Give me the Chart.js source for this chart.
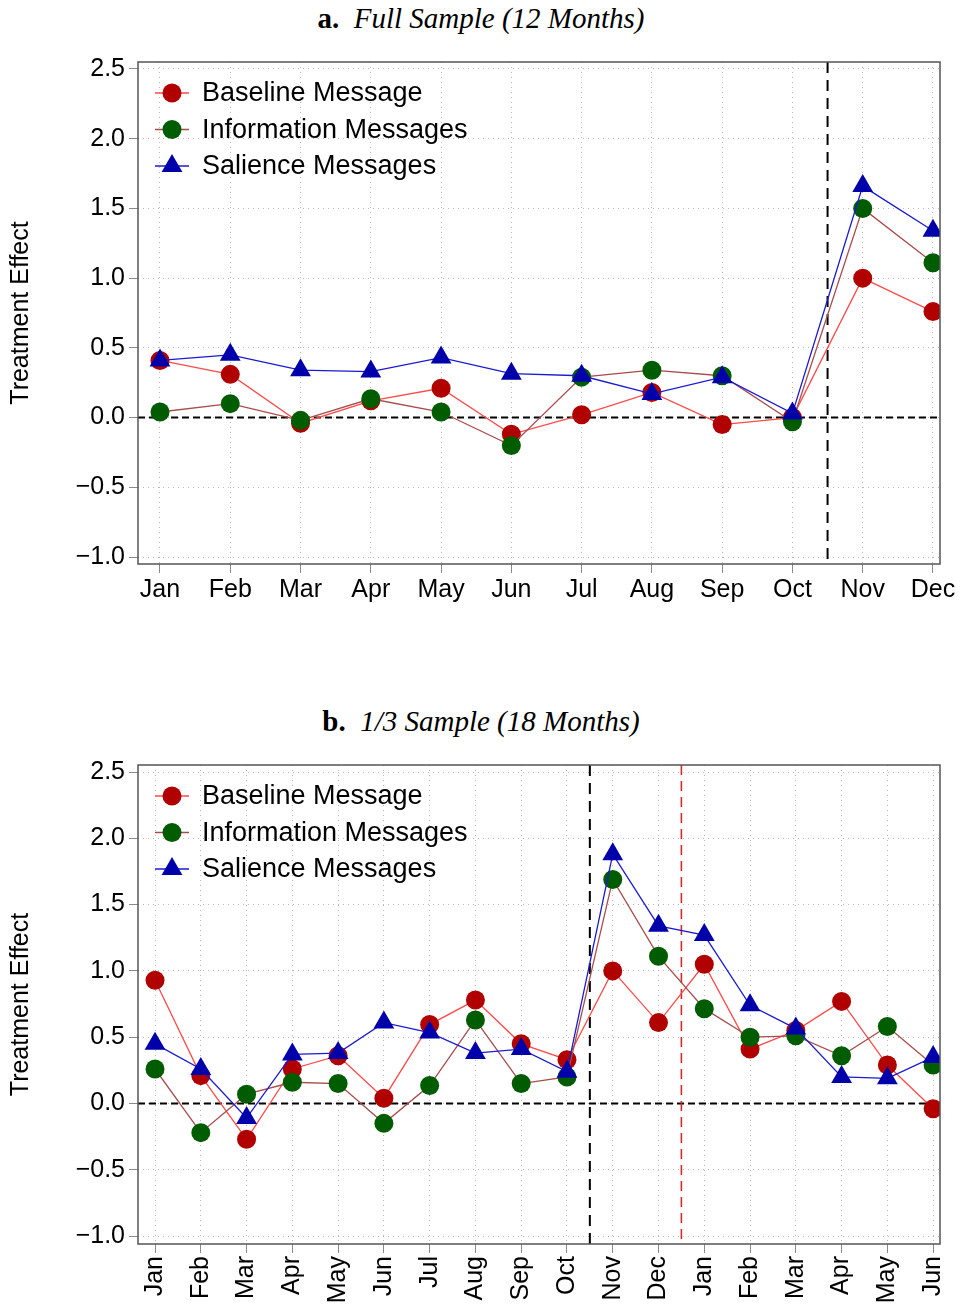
<!DOCTYPE html>
<html>
<head>
<meta charset="utf-8">
<script src="https://cdn.jsdelivr.net/npm/chart.js@4.4.1/dist/chart.umd.min.js"></script>
<style>
  html, body { margin: 0; padding: 0; background: #fff; }
  #page { position: relative; width: 962px; height: 1304px; overflow: hidden; background: #fff; }
  .ttl { position: absolute; left: 0; width: 962px; text-align: center;
         font-family: "Liberation Serif", "DejaVu Serif", serif; font-size: 29px; line-height: 30px; color: #000; }
  .ttl b { font-weight: bold; font-style: normal; }
  .ttl i { font-style: italic; }
  .cv { position: absolute; left: 0; width: 962px; }
  canvas { display: block; }
</style>
</head>
<body>
<div id="page">
  <div class="ttl" style="top:3px"><b>a.</b>&nbsp; <i>Full Sample (12 Months)</i></div>
  <div class="cv" style="top:40px;height:620px"><canvas id="chartA" width="962" height="620"></canvas></div>
  <div class="ttl" style="top:706px"><b>b.</b>&nbsp; <i>1/3 Sample (18 Months)</i></div>
  <div class="cv" style="top:740px;height:564px"><canvas id="chartB" width="962" height="564"></canvas></div>
</div>
<script>
// ---- Panel a: full sample, 12 months ----
const monthsA = ['Jan', 'Feb', 'Mar', 'Apr', 'May', 'Jun', 'Jul', 'Aug', 'Sep', 'Oct', 'Nov', 'Dec'];
const baselineA    = [0.41, 0.31, -0.04, 0.12, 0.21, -0.12, 0.02, 0.18, -0.05, 0.00, 1.00, 0.76];
const informationA = [0.04, 0.10, -0.02, 0.135, 0.04, -0.20, 0.29, 0.34, 0.30, -0.03, 1.50, 1.11];
const salienceA    = [0.41, 0.45, 0.34, 0.33, 0.43, 0.315, 0.30, 0.17, 0.29, 0.03, 1.66, 1.34];
const breaksA = [10.5];            // start of treatment (between Oct and Nov)

// ---- Panel b: one-third sample, 18 months ----
const monthsB = ['Jan', 'Feb', 'Mar', 'Apr', 'May', 'Jun', 'Jul', 'Aug', 'Sep', 'Oct', 'Nov', 'Dec',
                 'Jan', 'Feb', 'Mar', 'Apr', 'May', 'Jun'];
const baselineB    = [0.93, 0.21, -0.27, 0.26, 0.36, 0.04, 0.595, 0.78, 0.45, 0.33, 1.00, 0.61, 1.05, 0.41, 0.55, 0.77, 0.29, -0.04];
const informationB = [0.26, -0.22, 0.07, 0.16, 0.15, -0.15, 0.135, 0.63, 0.15, 0.20, 1.69, 1.11, 0.715, 0.50, 0.51, 0.36, 0.58, 0.29];
const salienceB    = [0.45, 0.26, -0.11, 0.37, 0.38, 0.61, 0.535, 0.38, 0.41, 0.24, 1.88, 1.34, 1.27, 0.74, 0.565, 0.20, 0.19, 0.35];
const breaksB = [10.5, 12.5];      // treatment start, end of treatment period

const yTicks = [-1.0, -0.5, 0.0, 0.5, 1.0, 1.5, 2.0, 2.5];
const seriesNames = ['Baseline Message', 'Information Messages', 'Salience Messages'];

const FONT = '"Liberation Sans", Arial, Helvetica, sans-serif';
const STYLE = [
  { marker: '#b00000', line: '#ff4a4a', shape: 'circle',   r: 9.5 },
  { marker: '#005c00', line: '#a84c4c', shape: 'circle',   r: 9.5 },
  { marker: '#0000aa', line: '#1a1ad0', shape: 'triangle', r: 12 }
];
const BREAK_STYLE = [
  { color: '#000000', width: 2, dash: [11, 7] },
  { color: '#d42a2a', width: 1.6, dash: [10, 6] }
];
const GRID = { color: '#b8b8b8', lineWidth: 1, tickColor: '#8a8a8a', tickLength: 9, tickWidth: 1 };

function fmtTick(v) {
  const s = Math.abs(v).toFixed(1);
  return v < 0 ? '\u2212' + s : s;
}

function toPoints(arr) { return arr.map((v, i) => ({ x: i + 1, y: v })); }

// Reference lines: dashed zero line and dashed vertical period breaks
const refLines = {
  id: 'refLines',
  beforeDatasetsDraw(chart, args, opts) {
    const { ctx, chartArea: a, scales: { x, y } } = chart;
    ctx.save();
    const y0 = y.getPixelForValue(0);
    ctx.strokeStyle = '#000'; ctx.lineWidth = 2; ctx.setLineDash([7, 4]);
    ctx.beginPath(); ctx.moveTo(a.left, y0); ctx.lineTo(a.right, y0); ctx.stroke();
    (opts.breaks || []).forEach((b, i) => {
      const st = BREAK_STYLE[i];
      const px = x.getPixelForValue(b);
      ctx.strokeStyle = st.color; ctx.lineWidth = st.width; ctx.setLineDash(st.dash);
      ctx.beginPath(); ctx.moveTo(px, a.top); ctx.lineTo(px, a.bottom); ctx.stroke();
    });
    ctx.restore();
  }
};

// Plot frame and in-plot legend (line segment with marker, then label)
const frameLegend = {
  id: 'frameLegend',
  afterDraw(chart) {
    const { ctx, chartArea: a } = chart;
    ctx.save();
    ctx.strokeStyle = '#555'; ctx.lineWidth = 1.5; ctx.setLineDash([]);
    ctx.strokeRect(a.left, a.top, a.right - a.left, a.bottom - a.top);
    seriesNames.forEach((name, i) => {
      const st = STYLE[i];
      const cy = a.top + 31 + i * 36.5;
      const cx = a.left + 34;
      ctx.strokeStyle = st.line; ctx.lineWidth = 1.3;
      ctx.beginPath(); ctx.moveTo(a.left + 17, cy); ctx.lineTo(a.left + 51, cy); ctx.stroke();
      ctx.fillStyle = st.marker;
      ctx.beginPath();
      if (st.shape === 'circle') {
        ctx.arc(cx, cy, st.r, 0, Math.PI * 2);
      } else {
        const r = st.r;
        ctx.moveTo(cx, cy - r);
        ctx.lineTo(cx + r * Math.sin(Math.PI * 2 / 3), cy - r * Math.cos(Math.PI * 2 / 3));
        ctx.lineTo(cx + r * Math.sin(Math.PI * 4 / 3), cy - r * Math.cos(Math.PI * 4 / 3));
        ctx.closePath();
      }
      ctx.fill();
      ctx.fillStyle = '#000';
      ctx.font = '27px ' + FONT;
      ctx.textBaseline = 'middle';
      ctx.textAlign = 'left';
      ctx.fillText(name, a.left + 64, cy + 1);
    });
    ctx.restore();
  }
};

function makeChart(id, cfg) {
  const datasets = [cfg.baseline, cfg.information, cfg.salience].map((arr, i) => ({
    label: seriesNames[i],
    data: toPoints(arr),
    borderColor: STYLE[i].line,
    borderWidth: 1.3,
    pointStyle: STYLE[i].shape,
    pointRadius: STYLE[i].r,
    pointBackgroundColor: STYLE[i].marker,
    pointBorderColor: STYLE[i].marker,
    pointBorderWidth: 0,
    tension: 0,
    fill: false,
    order: 2 - i
  }));
  return new Chart(document.getElementById(id), {
    type: 'line',
    data: { datasets },
    plugins: [refLines, frameLegend],
    options: {
      responsive: false,
      animation: false,
      events: [],
      layout: { autoPadding: false, padding: { left: 0, right: 22, top: cfg.padTop, bottom: 0 } },
      plugins: {
        legend: { display: false },
        tooltip: { enabled: false },
        refLines: { breaks: cfg.breaks }
      },
      scales: {
        x: {
          type: 'linear',
          min: cfg.xMin, max: cfg.xMax,
          afterBuildTicks(s) { s.ticks = cfg.months.map((m, i) => ({ value: i + 1 })); },
          afterFit(s) { s.height = cfg.xAxisHeight; s.paddingLeft = 0; s.paddingRight = 0; },
          ticks: {
            autoSkip: false,
            maxRotation: cfg.rotate, minRotation: cfg.rotate,
            color: '#000', padding: cfg.xPad,
            font: { family: FONT, size: 25 },
            callback: (v) => cfg.months[Math.round(v) - 1]
          },
          grid: GRID,
          border: { display: false, dash: [1, 4] }
        },
        y: {
          type: 'linear',
          min: cfg.yMin, max: cfg.yMax,
          afterBuildTicks(s) { s.ticks = yTicks.map(v => ({ value: v })); },
          afterFit(s) { s.width = 138; s.paddingTop = 0; s.paddingBottom = 0; },
          ticks: {
            color: '#000', padding: 4,
            font: { family: FONT, size: 25 },
            callback: (v) => fmtTick(v)
          },
          title: {
            display: true, text: 'Treatment Effect', color: '#000',
            font: { family: FONT, size: 25 },
            padding: { top: 6, bottom: 0 }
          },
          grid: GRID,
          border: { display: false, dash: [1, 4] }
        }
      }
    }
  });
}

makeChart('chartA', {
  months: monthsA, baseline: baselineA, information: informationA, salience: salienceA,
  breaks: breaksA, padTop: 22, xAxisHeight: 96, rotate: 0, xPad: 2,
  xMin: 0.687, xMax: 12.1, yMin: -1.05, yMax: 2.55
});

makeChart('chartB', {
  months: monthsB, baseline: baselineB, information: informationB, salience: salienceB,
  breaks: breaksB, padTop: 25, xAxisHeight: 60, rotate: 90, xPad: 3,
  xMin: 0.628, xMax: 18.15, yMin: -1.06, yMax: 2.553
});
</script>
</body>
</html>
